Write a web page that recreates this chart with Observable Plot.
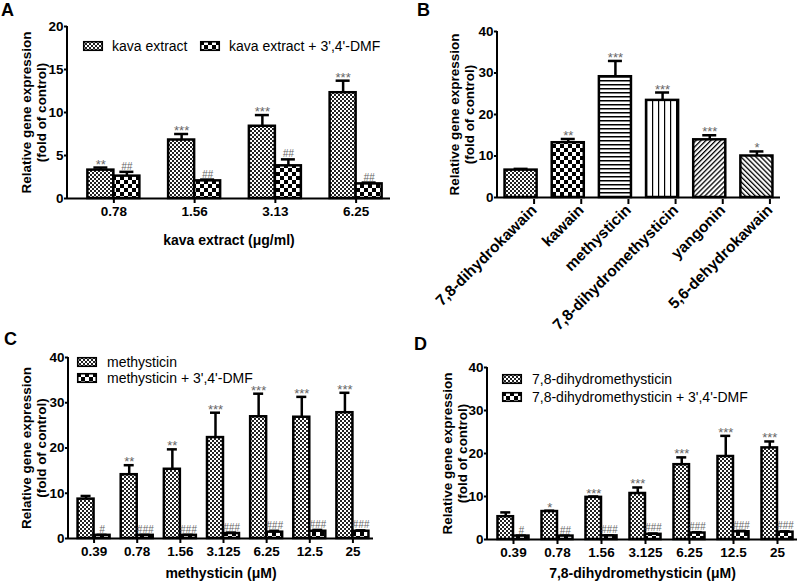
<!DOCTYPE html>
<html>
<head>
<meta charset="utf-8">
<script src="https://cdn.jsdelivr.net/npm/d3@7"></script>
<script src="https://cdn.jsdelivr.net/npm/@observablehq/plot@0.6"></script>
<style>
  html, body { margin: 0; padding: 0; background: white; }
  #root { position: relative; width: 800px; height: 581px; overflow: hidden; font-family: 'Liberation Sans', Arial, Helvetica, sans-serif; }
  .panel { position: absolute; }
  .panel svg { max-width: none; }
  .letter { position: absolute; font: bold 18px 'Liberation Sans', Arial, sans-serif; }
</style>
</head>
<body>
<svg width="0" height="0" style="position:absolute">
  <defs>
    <pattern id="pFine" width="4" height="4" patternUnits="userSpaceOnUse">
      <rect width="4" height="4" fill="white"/>
      <rect width="2" height="2" fill="#222"/>
      <rect x="2" y="2" width="2" height="2" fill="#222"/>
    </pattern>
    <pattern id="pCoarse" width="8" height="8" patternUnits="userSpaceOnUse">
      <rect width="8" height="8" fill="white"/>
      <rect width="4" height="4" fill="black"/>
      <rect x="4" y="4" width="4" height="4" fill="black"/>
    </pattern>
    <pattern id="pH" width="4" height="4" patternUnits="userSpaceOnUse">
      <rect width="4" height="4" fill="white"/>
      <rect width="4" height="1.5" fill="black"/>
    </pattern>
    <pattern id="pV" width="6" height="6" patternUnits="userSpaceOnUse">
      <rect width="6" height="6" fill="white"/>
      <rect width="1.2" height="6" fill="black"/>
    </pattern>
    <pattern id="pD1" width="3.5" height="3.5" patternUnits="userSpaceOnUse" patternTransform="rotate(45)">
      <rect width="3.5" height="3.5" fill="white"/>
      <rect width="1.3" height="3.5" fill="black"/>
    </pattern>
    <pattern id="pD2" width="3.5" height="3.5" patternUnits="userSpaceOnUse" patternTransform="rotate(-45)">
      <rect width="3.5" height="3.5" fill="white"/>
      <rect width="1.3" height="3.5" fill="black"/>
    </pattern>
  </defs>
</svg>
<div id="root"></div>
<script>
// ---------------- DATA ----------------
// Panel A
const aDoses = ["0.78", "1.56", "3.13", "6.25"];
const aSeries = ["kava extract", "kava extract + 3',4'-DMF"];
const aKava = [3.3, 6.8, 8.4, 12.3];
const aKavaErr = [0.3, 0.7, 1.3, 1.4];
const aDmf = [2.6, 2.05, 3.8, 1.7];
const aDmfErr = [0.5, 0.15, 0.75, 0.15];
const aKavaSig = ["**", "***", "***", "***"];
const aDmfSig = ["##", "##", "##", "##"];

// Panel B
const bCompounds = ["7,8-dihydrokawain", "kawain", "methysticin", "7,8-dihydromethysticin", "yangonin", "5,6-dehydrokawain"];
const bValues = [6.6, 13.2, 29.1, 23.4, 13.9, 10.0];
const bErr = [0.3, 0.9, 3.8, 1.9, 1.1, 1.1];
const bSig = ["", "**", "***", "***", "***", "*"];

// Panel C
const cDoses = ["0.39", "0.78", "1.56", "3.125", "6.25", "12.5", "25"];
const cSeries = ["methysticin", "methysticin + 3',4'-DMF"];
const cMeth = [8.7, 14.1, 15.3, 22.3, 26.9, 26.8, 27.8];
const cMethErr = [0.7, 2.1, 4.4, 5.5, 5.1, 4.5, 4.4];
const cDmf = [0.7, 0.7, 0.7, 1.1, 1.4, 1.6, 1.6];
const cDmfErr = [0.1, 0.1, 0.1, 0.2, 0.3, 0.3, 0.2];
const cMethSig = ["", "**", "**", "***", "***", "***", "***"];
const cDmfSig = ["#", "###", "###", "###", "###", "###", "###"];

// Panel D
const dDoses = ["0.39", "0.78", "1.56", "3.125", "6.25", "12.5", "25"];
const dSeries = ["7,8-dihydromethysticin", "7,8-dihydromethysticin + 3',4'-DMF"];
const dDhm = [5.3, 6.5, 9.8, 10.7, 17.4, 19.3, 21.3];
const dDhmErr = [1.0, 0.2, 0.2, 1.4, 1.7, 4.8, 1.5];
const dDmf = [0.8, 0.8, 0.85, 1.2, 1.5, 1.8, 1.7];
const dDmfErr = [0.1, 0.1, 0.1, 0.2, 0.2, 0.2, 0.2];
const dDhmSig = ["", "*", "***", "***", "***", "***", "***"];
const dDmfSig = ["#", "##", "###", "###", "###", "###", "###"];

const yLabel = "Relative gene expression\n(fold of control)";

// ---------------- STYLE ----------------
const FONT = "'Liberation Sans', Arial, Helvetica, sans-serif";
const bFills = {
  "7,8-dihydrokawain": "url(#pFine)",
  "kawain": "url(#pCoarse)",
  "methysticin": "url(#pH)",
  "7,8-dihydromethysticin": "url(#pV)",
  "yangonin": "url(#pD1)",
  "5,6-dehydrokawain": "url(#pD2)"
};
const SIG = "#666";

function yAxisLine() {
  return (index, scales, values, dims) => {
    const l = document.createElementNS("http://www.w3.org/2000/svg", "line");
    l.setAttribute("x1", dims.marginLeft);
    l.setAttribute("x2", dims.marginLeft);
    l.setAttribute("y1", dims.marginTop);
    l.setAttribute("y2", dims.height - dims.marginBottom + 1);
    l.setAttribute("stroke", "black");
    l.setAttribute("stroke-width", 2);
    return l;
  };
}

function frameMarks({yTicks, yDx, xTitle, xTitleDy, rotated}) {
  const m = [
    Plot.ruleY([0], {stroke: "black", strokeWidth: 2}),
    yAxisLine(),
    Plot.axisY({ticks: yTicks, tickSize: 3, tickPadding: 1, strokeWidth: 2, label: null, fontSize: 13.5, fontWeight: "bold"}),
    rotated
      ? Plot.axisX({tickSize: 5, tickPadding: 3, strokeWidth: 2, label: null, fontSize: 15.5, fontWeight: "bold", tickRotate: -45, dx: 13, dy: 2})
      : Plot.axisX({tickSize: 5, tickPadding: 3, strokeWidth: 2, label: null, fontSize: 13.5, fontWeight: "bold"}),
    Plot.text([yLabel], {text: d => d, frameAnchor: "left", textAnchor: "middle", lineAnchor: "middle", rotate: -90, dx: yDx, fontSize: 13.5, fontWeight: "bold", lineHeight: 1.15, fill: "black"})
  ];
  if (xTitle) m.push(Plot.text([xTitle], {text: d => d, frameAnchor: "bottom", textAnchor: "middle", lineAnchor: "middle", dy: xTitleDy, fontSize: 14, fontWeight: "bold", fill: "black"}));
  return m;
}

function groupedPanel(o) {
  const rows = o.groups.map((g, i) => ({
    g, a: o.a[i], at: o.a[i] + o.aErr[i], as: o.aSig[i],
    b: o.b[i], bt: o.b[i] + o.bErr[i], bs: o.bSig[i]
  }));
  const n = o.groups.length;
  const step = (o.xRange[1] - o.xRange[0]) / n;
  const band = step * (1 - o.pad);
  const bw = band / 2;
  const cap = o.cap;
  return Plot.plot({
    width: o.width, height: o.height,
    marginTop: o.mt, marginBottom: o.mb, marginLeft: o.ml, marginRight: o.mr,
    style: {fontFamily: FONT, background: "transparent", overflow: "visible"},
    x: {domain: o.groups, range: o.xRange, paddingInner: o.pad, paddingOuter: o.pad / 2, round: false},
    y: {domain: o.yDomain},
    marks: [
      Plot.ruleX(rows, {x: "g", y1: "a", y2: "at", dx: -bw / 2, strokeWidth: 2.5}),
      Plot.ruleX(rows, {x: "g", y1: "b", y2: "bt", dx: bw / 2, strokeWidth: 2.5}),
      Plot.tickY(rows, {x: "g", y: "at", insetLeft: bw / 2 - cap / 2, insetRight: 1.5 * bw - cap / 2, strokeWidth: 2.5}),
      Plot.tickY(rows, {x: "g", y: "bt", insetLeft: 1.5 * bw - cap / 2, insetRight: bw / 2 - cap / 2, strokeWidth: 2.5}),
      Plot.barY(rows, {x: "g", y: "a", fill: o.fillA, stroke: "black", strokeWidth: 2.5, insetRight: bw}),
      Plot.barY(rows, {x: "g", y: "b", fill: o.fillB, stroke: "black", strokeWidth: 2.5, insetLeft: bw}),
      Plot.text(rows, {x: "g", y: "at", text: "as", dx: -bw / 2, dy: 1, lineAnchor: "bottom", fontSize: 13, fill: SIG}),
      Plot.text(rows, {x: "g", y: "bt", text: "bs", dx: bw / 2, dy: -2, lineAnchor: "bottom", fontSize: 10, fontStyle: "italic", fill: SIG}),
      ...frameMarks({yTicks: o.yTicks, yDx: o.yDx, xTitle: o.xTitle, xTitleDy: o.xTitleDy})
    ]
  });
}

function singlePanel() {
  const rows = bCompounds.map((c, i) => ({c, v: bValues[i], t: bValues[i] + bErr[i], s: bSig[i]}));
  const width = 400, height = 330, ml = 97, mr = 20, mt = 31, mb = 133;
  const pad = 0.32;
  const step = (width - ml - mr) / bCompounds.length;
  const bw = step * (1 - pad);
  const cap = 14;
  return Plot.plot({
    width, height, marginTop: mt, marginBottom: mb, marginLeft: ml, marginRight: mr,
    style: {fontFamily: FONT, background: "transparent", overflow: "visible"},
    x: {domain: bCompounds, paddingInner: pad, paddingOuter: pad / 2, round: false},
    y: {domain: [0, 40]},
    color: {type: "identity"},
    marks: [
      Plot.ruleX(rows, {x: "c", y1: "v", y2: "t", strokeWidth: 2.5}),
      Plot.tickY(rows, {x: "c", y: "t", insetLeft: bw / 2 - cap / 2, insetRight: bw / 2 - cap / 2, strokeWidth: 2.5}),
      Plot.barY(rows, {x: "c", y: "v", fill: d => bFills[d.c], stroke: "black", strokeWidth: 2.5}),
      Plot.text(rows, {x: "c", y: "t", text: "s", dy: 1, lineAnchor: "bottom", fontSize: 13, fill: SIG}),
      ...frameMarks({yTicks: [0, 10, 20, 30, 40], yDx: -36, rotated: true})
    ]
  });
}

// ---------------- LAYOUT ----------------
const root = document.getElementById("root");
function place(node, left, top) {
  const d = document.createElement("div");
  d.className = "panel";
  d.style.left = left + "px";
  d.style.top = top + "px";
  d.appendChild(node);
  root.appendChild(d);
}
function letter(t, left, top) {
  const d = document.createElement("div");
  d.className = "letter";
  d.textContent = t;
  d.style.left = left + "px";
  d.style.top = top + "px";
  root.appendChild(d);
}
function legendItem(x, yc, fillId, label, textX) {
  const d = document.createElement("div");
  d.style.cssText = `position:absolute;left:${x}px;top:${yc - 10}px;height:20px;display:flex;align-items:center;font:14px ${FONT};white-space:nowrap;color:black`;
  const s = document.createElementNS("http://www.w3.org/2000/svg", "svg");
  s.setAttribute("width", 20); s.setAttribute("height", 10);
  s.style.overflow = "visible";
  s.style.marginRight = (textX - x - 20) + "px";
  s.innerHTML = `<rect x="0.75" y="0.75" width="18.5" height="8.5" fill="url(#${fillId})" stroke="black" stroke-width="1.6"/>`;
  const sp = document.createElement("span");
  sp.textContent = label;
  d.appendChild(s); d.appendChild(sp);
  root.appendChild(d);
}

// Panel A
place(groupedPanel({
  groups: aDoses, a: aKava, aErr: aKavaErr, aSig: aKavaSig, b: aDmf, bErr: aDmfErr, bSig: aDmfSig,
  fillA: "url(#pFine)", fillB: "url(#pCoarse)",
  width: 400, height: 250, mt: 26, mb: 52, ml: 67, mr: 10,
  xRange: [73, 396], pad: 0.356, cap: 14, yDomain: [0, 20], yTicks: [0, 5, 10, 15, 20],
  yDx: -34, xTitle: "kava extract (\u03bcg/ml)", xTitleDy: 42
}), 0, 0);

// Panel B
place(singlePanel(), 400, 0);

// Panel C
place(groupedPanel({
  groups: cDoses, a: cMeth, aErr: cMethErr, aSig: cMethSig, b: cDmf, bErr: cDmfErr, bSig: cDmfSig,
  fillA: "url(#pFine)", fillB: "url(#pCoarse)",
  width: 400, height: 281, mt: 57, mb: 43, ml: 68, mr: 27,
  xRange: [72, 374], pad: 0.258, cap: 10, yDomain: [0, 40], yTicks: [0, 10, 20, 30, 40],
  yDx: -35, xTitle: "methysticin (\u03bcM)", xTitleDy: 35
}), 0, 300);

// Panel D
place(groupedPanel({
  groups: dDoses, a: dDhm, aErr: dDhmErr, aSig: dDhmSig, b: dDmf, bErr: dDmfErr, bSig: dDmfSig,
  fillA: "url(#pFine)", fillB: "url(#pCoarse)",
  width: 400, height: 281, mt: 67, mb: 42, ml: 87, mr: 3,
  xRange: [91, 399], pad: 0.295, cap: 10, yDomain: [0, 40], yTicks: [0, 10, 20, 30, 40],
  yDx: -33, xTitle: "7,8-dihydromethysticin (\u03bcM)", xTitleDy: 34
}), 400, 300);

// Letters
letter("A", 1, 0);
letter("B", 417, 0);
letter("C", 4, 329);
letter("D", 414, 334);

// Legends
legendItem(83, 46, "pFine", aSeries[0], 112);
legendItem(200, 46, "pCoarse", aSeries[1], 229);
legendItem(77, 362, "pFine", cSeries[0], 107);
legendItem(77, 378, "pCoarse", cSeries[1], 107);
legendItem(502, 379, "pFine", dSeries[0], 532);
legendItem(502, 397, "pCoarse", dSeries[1], 532);
</script>
</body>
</html>
